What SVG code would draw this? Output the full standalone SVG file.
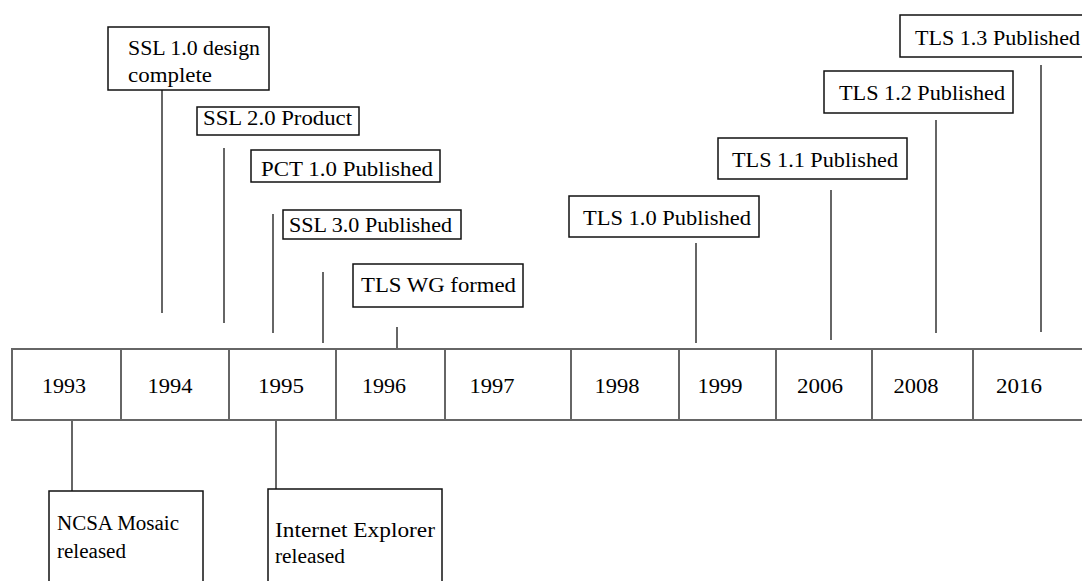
<svg xmlns="http://www.w3.org/2000/svg" width="1082" height="581" viewBox="0 0 1082 581" font-family="'Liberation Serif', 'DejaVu Serif', 'Times New Roman', serif">
<style>
.box{fill:#fff;stroke:#111;stroke-width:1.5}
.bar{fill:#fff;stroke:#666;stroke-width:2}
.div{stroke:#666;stroke-width:2}
.con{stroke:#666;stroke-width:2;fill:none}
.t{font-size:20px;fill:#000}
.yr{text-anchor:middle}
</style>
<rect width="1082" height="581" fill="#fff"/>
<g id="timeline">
<rect class="bar" x="12" y="349" width="1090" height="71"/>
<line class="div" x1="121" y1="349" x2="121" y2="420"/>
<line class="div" x1="229" y1="349" x2="229" y2="420"/>
<line class="div" x1="336" y1="349" x2="336" y2="420"/>
<line class="div" x1="445" y1="349" x2="445" y2="420"/>
<line class="div" x1="571" y1="349" x2="571" y2="420"/>
<line class="div" x1="679" y1="349" x2="679" y2="420"/>
<line class="div" x1="776" y1="349" x2="776" y2="420"/>
<line class="div" x1="872" y1="349" x2="872" y2="420"/>
<line class="div" x1="973" y1="349" x2="973" y2="420"/>
<text class="t yr" x="64" y="393" textLength="44" lengthAdjust="spacingAndGlyphs">1993</text>
<text class="t yr" x="170" y="393" textLength="45" lengthAdjust="spacingAndGlyphs">1994</text>
<text class="t yr" x="281" y="393" textLength="46" lengthAdjust="spacingAndGlyphs">1995</text>
<text class="t yr" x="384" y="393" textLength="44" lengthAdjust="spacingAndGlyphs">1996</text>
<text class="t yr" x="492" y="393" textLength="45" lengthAdjust="spacingAndGlyphs">1997</text>
<text class="t yr" x="617" y="393" textLength="45" lengthAdjust="spacingAndGlyphs">1998</text>
<text class="t yr" x="720" y="393" textLength="45" lengthAdjust="spacingAndGlyphs">1999</text>
<text class="t yr" x="820" y="393" textLength="46" lengthAdjust="spacingAndGlyphs">2006</text>
<text class="t yr" x="916" y="393" textLength="45" lengthAdjust="spacingAndGlyphs">2008</text>
<text class="t yr" x="1019" y="393" textLength="46" lengthAdjust="spacingAndGlyphs">2016</text>
</g>
<g id="connectors">
<line class="con" x1="162" y1="90" x2="162" y2="313"/>
<line class="con" x1="224" y1="148" x2="224" y2="323"/>
<line class="con" x1="273" y1="214" x2="273" y2="333"/>
<line class="con" x1="323" y1="272" x2="323" y2="343"/>
<line class="con" x1="397" y1="327" x2="397" y2="349"/>
<line class="con" x1="696" y1="243" x2="696" y2="343"/>
<line class="con" x1="831" y1="190" x2="831" y2="340"/>
<line class="con" x1="936" y1="120" x2="936" y2="333"/>
<line class="con" x1="1041" y1="65" x2="1041" y2="332"/>
<line class="con" x1="72" y1="420" x2="72" y2="491"/>
<line class="con" x1="276" y1="420" x2="276" y2="489"/>
</g>
<g id="ssl10">
<rect class="box" x="108" y="27" width="161" height="63"/>
<text class="t" x="128" y="55" textLength="132" lengthAdjust="spacingAndGlyphs">SSL 1.0 design</text>
<text class="t" x="128" y="82" textLength="84" lengthAdjust="spacingAndGlyphs">complete</text>
</g>
<g id="ssl20">
<rect class="box" x="197" y="107" width="162" height="28"/>
<text class="t" x="203" y="125" textLength="149" lengthAdjust="spacingAndGlyphs">SSL 2.0 Product</text>
</g>
<g id="pct10">
<rect class="box" x="251" y="150" width="189" height="32"/>
<text class="t" x="261" y="176" textLength="172" lengthAdjust="spacingAndGlyphs">PCT 1.0 Published</text>
</g>
<g id="ssl30">
<rect class="box" x="283" y="210" width="178" height="29"/>
<text class="t" x="289" y="232" textLength="163" lengthAdjust="spacingAndGlyphs">SSL 3.0 Published</text>
</g>
<g id="tlswg">
<rect class="box" x="353" y="264" width="170" height="43"/>
<text class="t" x="361" y="292" textLength="155" lengthAdjust="spacingAndGlyphs">TLS WG formed</text>
</g>
<g id="tls10">
<rect class="box" x="569" y="196" width="190" height="41"/>
<text class="t" x="583" y="225" textLength="168" lengthAdjust="spacingAndGlyphs">TLS 1.0 Published</text>
</g>
<g id="tls11">
<rect class="box" x="718" y="138" width="189" height="41"/>
<text class="t" x="732" y="167" textLength="166" lengthAdjust="spacingAndGlyphs">TLS 1.1 Published</text>
</g>
<g id="tls12">
<rect class="box" x="824" y="71" width="189" height="42"/>
<text class="t" x="839" y="100" textLength="166" lengthAdjust="spacingAndGlyphs">TLS 1.2 Published</text>
</g>
<g id="tls13">
<rect class="box" x="900" y="15" width="190" height="42"/>
<text class="t" x="915" y="45" textLength="165" lengthAdjust="spacingAndGlyphs">TLS 1.3 Published</text>
</g>
<g id="mosaic">
<rect class="box" x="49" y="491" width="154" height="120"/>
<text class="t" x="57" y="530" textLength="122" lengthAdjust="spacingAndGlyphs">NCSA Mosaic</text>
<text class="t" x="57" y="558" textLength="69" lengthAdjust="spacingAndGlyphs">released</text>
</g>
<g id="ie">
<rect class="box" x="268" y="489" width="174" height="120"/>
<text class="t" x="275" y="537" textLength="160" lengthAdjust="spacingAndGlyphs">Internet Explorer</text>
<text class="t" x="275" y="563" textLength="70" lengthAdjust="spacingAndGlyphs">released</text>
</g>
</svg>
